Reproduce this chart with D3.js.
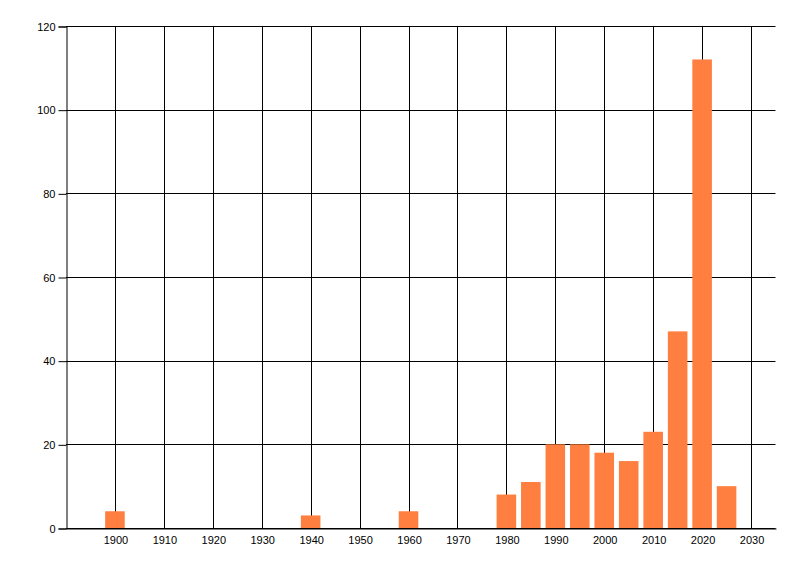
<!DOCTYPE html>
<html>
<head>
<meta charset="utf-8">
<script src="https://cdn.jsdelivr.net/npm/d3@7"></script>
<style>
  html, body { margin: 0; padding: 0; background: #fff; }
  svg { display: block; }
  .tick text { font-family: "Liberation Sans", Arial, sans-serif; font-size: 11px; fill: #000; }
</style>
</head>
<body>
<svg id="chart" width="800" height="576"></svg>
<script>
const years = [1900, 1940, 1960, 1980, 1985, 1990, 1995, 2000, 2005, 2010, 2015, 2020, 2025];
const counts = [4, 3, 4, 8, 11, 20, 20, 18, 16, 23, 47, 112, 10];
const xTicks = [1900, 1910, 1920, 1930, 1940, 1950, 1960, 1970, 1980, 1990, 2000, 2010, 2020, 2030];
const yTicks = [0, 20, 40, 60, 80, 100, 120];

(function () {
const svg = d3.select("#chart");
const mLeft = 66, mRight = 775.5, mTop = 26, mBottom = 528;

const x = d3.scaleLinear().domain([1890, 2035]).range([mLeft, mRight]);
const y = d3.scaleLinear().domain([0, 120]).range([mBottom, mTop]);

// vertical gridlines
svg.append("g").selectAll("line").data(xTicks).join("line")
  .attr("x1", d => Math.round(x(d)) + 0.5).attr("x2", d => Math.round(x(d)) + 0.5)
  .attr("y1", mTop).attr("y2", mBottom)
  .attr("stroke", "#000").attr("stroke-width", 1);

// horizontal gridlines
svg.append("g").selectAll("line").data(yTicks).join("line")
  .attr("x1", mLeft).attr("x2", mRight)
  .attr("y1", d => Math.round(y(d)) + 0.5).attr("y2", d => Math.round(y(d)) + 0.5)
  .attr("stroke", "#000").attr("stroke-width", 1);

// bars
const barW = x(1894) - x(1890);
svg.append("g").selectAll("rect").data(years).join("rect")
  .attr("x", d => x(d) - barW / 2)
  .attr("width", barW)
  .attr("y", (d, i) => y(counts[i]))
  .attr("height", (d, i) => y(0) - y(counts[i]))
  .attr("fill", "#FF7F40");

// y axis
const yAxis = d3.axisLeft(y).tickValues(yTicks).tickSize(8).tickPadding(3);
svg.append("g").attr("transform", `translate(${mLeft + 0.5},0.5)`).call(yAxis)
  .call(g => g.selectAll(".tick line").attr("stroke", "#000"))
  .call(g => g.select(".domain").attr("stroke", "#000"));

// x axis
const xAxis = d3.axisBottom(x).tickValues(xTicks).tickFormat(d3.format("d")).tickSize(0).tickPadding(8);
svg.append("g").attr("transform", `translate(0.5,${mBottom + 0.5})`).call(xAxis)
  .call(g => g.select(".domain").attr("stroke", "#000"));
})();
</script>
</body>
</html>
